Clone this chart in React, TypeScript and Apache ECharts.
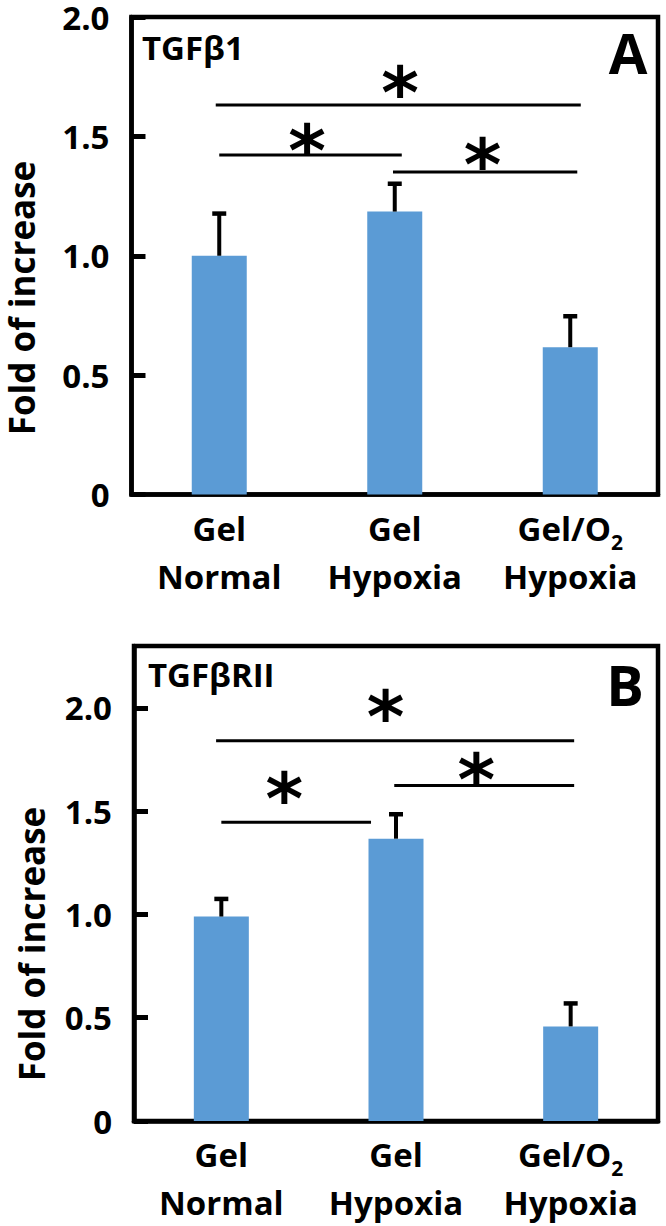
import React, { useEffect, useRef } from 'react';
import * as echarts from 'echarts';

const categories = ['Gel\nNormal', 'Gel\nHypoxia', 'Gel/O2\nHypoxia'];
const tgfb1Mean = [1.0, 1.185, 0.617];
const tgfb1Err = [0.185, 0.125, 0.138];
const tgfbr2Mean = [0.99, 1.367, 0.458];
const tgfbr2Err = [0.095, 0.128, 0.121];
const yTicks = [0, 0.5, 1, 1.5, 2];
// significance brackets: [fromCat, toCat, lineY, starCat, starY]
const sigA = [
  [-0.02, 2.06, 1.631, 1.03, 1.728],
  [0, 1.04, 1.422, 0.5, 1.489],
  [0.99, 2.04, 1.351, 1.5, 1.43],
];
const sigB = [
  [-0.03, 2.02, 1.841, 0.94, 2.01],
  [0, 0.857, 1.446, 0.36, 1.616],
  [0.99, 2.02, 1.625, 1.46, 1.708],
];

const FONT = 'Open Sans';
const BAR = '#5B9BD5';
const STAR_FS = 72;

function errorRender(params: any, api: any) {
  const i = api.value(0);
  const m = api.value(1);
  const e = api.value(2);
  const base = api.coord([i, m]);
  const top = api.coord([i, m + e]);
  return {
    type: 'group',
    children: [
      { type: 'line', shape: { x1: base[0], y1: base[1], x2: top[0], y2: top[1] + 1 }, style: { stroke: '#000', lineWidth: 4 } },
      { type: 'line', shape: { x1: top[0] - 7, y1: top[1] + 2, x2: top[0] + 7, y2: top[1] + 2 }, style: { stroke: '#000', lineWidth: 4.5 } },
    ],
  };
}

function sigRender(sig: number[][]) {
  return (params: any, api: any) => {
    const s = sig[params.dataIndex];
    const c0 = api.coord([0, s[2]]);
    const c1 = api.coord([1, s[2]]);
    const band = c1[0] - c0[0];
    const x1 = c0[0] + s[0] * band;
    const x2 = c0[0] + s[1] * band;
    const st = api.coord([0, s[4]]);
    const sx = c0[0] + s[3] * band;
    return {
      type: 'group',
      children: [
        { type: 'line', shape: { x1, y1: c0[1], x2, y2: c0[1] }, style: { stroke: '#000', lineWidth: 3 } },
        {
          type: 'text',
          x: sx,
          y: st[1] + 0.16 * STAR_FS,
          style: { text: '*', fontSize: STAR_FS, fontWeight: 'bold', fontFamily: 'DejaVu Sans', fill: '#000', align: 'center', verticalAlign: 'middle' },
        },
      ],
    };
  };
}

function makeXAxis(gridIndex: number, margin: number) {
  return {
    type: 'category',
    gridIndex,
    data: categories,
    axisTick: { show: false },
    axisLine: { show: true, lineStyle: { color: '#000', width: 4.5 } },
    axisLabel: {
      interval: 0,
      margin,
      color: '#000',
      fontFamily: FONT,
      fontWeight: 'bold',
      fontSize: 33,
      lineHeight: 48,
      formatter: (v: string) => v.replace('O2', 'O{sub|2}'),
      rich: {
        sub: { fontSize: 21, lineHeight: 20, verticalAlign: 'bottom', fontFamily: FONT, fontWeight: 'bold', color: '#000' },
      },
    },
  };
}

function makeYAxis(gridIndex: number, max: number) {
  return {
    type: 'value',
    gridIndex,
    min: 0,
    max,
    interval: 0.5,
    splitLine: { show: false },
    axisLine: { show: true, lineStyle: { color: '#000', width: 4.5 } },
    axisTick: { show: true, inside: true, length: 14, lineStyle: { color: '#000', width: 5 }, customValues: yTicks },
    axisLabel: {
      margin: 22,
      color: '#000',
      fontFamily: FONT,
      fontWeight: 'bold',
      fontSize: 33,
      lineHeight: 28,
      customValues: yTicks,
      formatter: (v: number) => (v === 0 ? '0' : v.toFixed(1)),
    },
  };
}

const textStyle = (text: string, fontSize: number, extra: any = {}) => ({
  text,
  fontSize,
  fontFamily: FONT,
  fontWeight: 'bold',
  fill: '#000',
  verticalAlign: 'middle',
  ...extra,
});

export default function App() {
  const ref = useRef<HTMLDivElement>(null);
  useEffect(() => {
    if (!ref.current) return;
    const chart = echarts.init(ref.current, null, { renderer: 'svg' });
    chart.setOption({
      animation: false,
      backgroundColor: '#fff',
      grid: [
        { left: 131.5, top: 17, width: 526.5, height: 477.5, show: true, borderColor: '#000', borderWidth: 4.5, backgroundColor: 'transparent' },
        { left: 134, top: 646, width: 524, height: 475.7, show: true, borderColor: '#000', borderWidth: 4.5, backgroundColor: 'transparent' },
      ],
      xAxis: [makeXAxis(0, 10), makeXAxis(1, 9)],
      yAxis: [makeYAxis(0, 2), makeYAxis(1, 2.3)],
      series: [
        { type: 'bar', xAxisIndex: 0, yAxisIndex: 0, data: tgfb1Mean, barWidth: 55, itemStyle: { color: BAR } },
        { type: 'custom', xAxisIndex: 0, yAxisIndex: 0, data: tgfb1Mean.map((m, i) => [i, m, tgfb1Err[i]]), encode: { x: 0, y: 1 }, renderItem: errorRender, z: 3 },
        { type: 'custom', xAxisIndex: 0, yAxisIndex: 0, data: sigA.map((s) => [0, s[2]]), encode: { x: 0, y: 1 }, renderItem: sigRender(sigA), z: 3 },
        { type: 'bar', xAxisIndex: 1, yAxisIndex: 1, data: tgfbr2Mean, barWidth: 55, itemStyle: { color: BAR } },
        { type: 'custom', xAxisIndex: 1, yAxisIndex: 1, data: tgfbr2Mean.map((m, i) => [i, m, tgfbr2Err[i]]), encode: { x: 0, y: 1 }, renderItem: errorRender, z: 3 },
        { type: 'custom', xAxisIndex: 1, yAxisIndex: 1, data: sigB.map((s) => [0, s[2]]), encode: { x: 0, y: 1 }, renderItem: sigRender(sigB), z: 3 },
      ],
      graphic: [
        { type: 'text', x: 142, y: 47, style: textStyle('TGFβ1', 33) },
        { type: 'text', x: 148, y: 674, style: textStyle('TGFβRII', 33) },
        { type: 'text', x: 628, y: 52, style: textStyle('A', 56, { align: 'center' }) },
        { type: 'text', x: 625, y: 684, style: textStyle('B', 56, { align: 'center' }) },
        { type: 'text', x: 21, y: 298, rotation: Math.PI / 2, style: textStyle('Fold of increase', 35, { align: 'center', lineHeight: 30 }) },
        { type: 'text', x: 31, y: 944, rotation: Math.PI / 2, style: textStyle('Fold of increase', 35, { align: 'center', lineHeight: 30 }) },
      ],
    });
    return () => chart.dispose();
  }, []);
  return <div ref={ref} style={{ position: 'absolute', left: 0, top: 0, width: 666, height: 1226 }} />;
}
